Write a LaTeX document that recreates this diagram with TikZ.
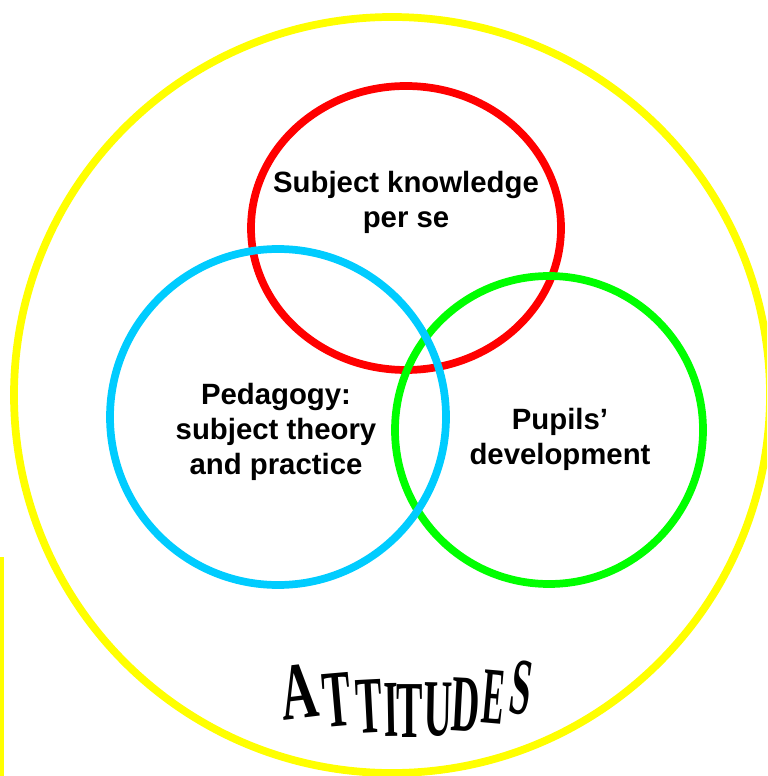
\documentclass[tikz,border=0pt]{standalone}
\usepackage{fontspec}
\usepackage{xcolor}
\usepackage{tikz}
\usetikzlibrary{shapes,positioning}
\newfontfamily\vennfont{Liberation Sans}
\newfontfamily\attfont{Liberation Serif}
\definecolor{vennred}{RGB}{255,0,0}
\definecolor{vennblue}{RGB}{0,204,255}
\definecolor{venngreen}{RGB}{0,255,0}
\definecolor{vennyellow}{RGB}{255,255,0}
\tikzset{
  ring/.style={line width=4.4pt},
  venntext/.style={align=center, inner sep=0pt, font={\vennfont\bfseries\fontsize{16.7}{20}\selectfont}},
  attletter/.style={inner sep=0pt, font={\attfont\bfseries\fontsize{46}{46}\selectfont}}
}

\begin{document}
\begin{tikzpicture}[x=0.02cm,y=-0.02cm]
      \clip (0,0) rectangle (767,776);
      \draw[ring, color=vennyellow] (392,395) circle (378);
      \draw[color=vennyellow, line width=2.3pt] (2,557) -- (2,776);
      \draw[ring, color=vennred] (406,228) ellipse [x radius=155, y radius=142];
      \draw[ring, color=venngreen] (549,430) circle (154);
      \draw[ring, color=vennblue] (278,417) circle (168);
      \node[venntext] at (406,202) (subj) {Subject knowledge\\per se};
      \node[venntext] at (276,432) (peda) {Pedagogy:\\subject theory\\and practice};
      \node[venntext] at (560,439) (pupils) {Pupils’\\development};
      \foreach \ch/\px/\py/\tilt/\squeeze [count=\i] in {A/299/692/7/0.64, T/337/700/5/0.52, T/369/706/3/0.49, I/391/710/1/0.46, T/410/711/0/0.49, U/438/710/-1/0.49, D/466/705/-3/0.48, E/494/697/-5/0.41, S/521/688/-8/0.46}
        \node[attletter, rotate=\tilt] at (\px,\py) (att\i) {\scalebox{\squeeze}[1]{\ch}};
\end{tikzpicture}
\end{document}
